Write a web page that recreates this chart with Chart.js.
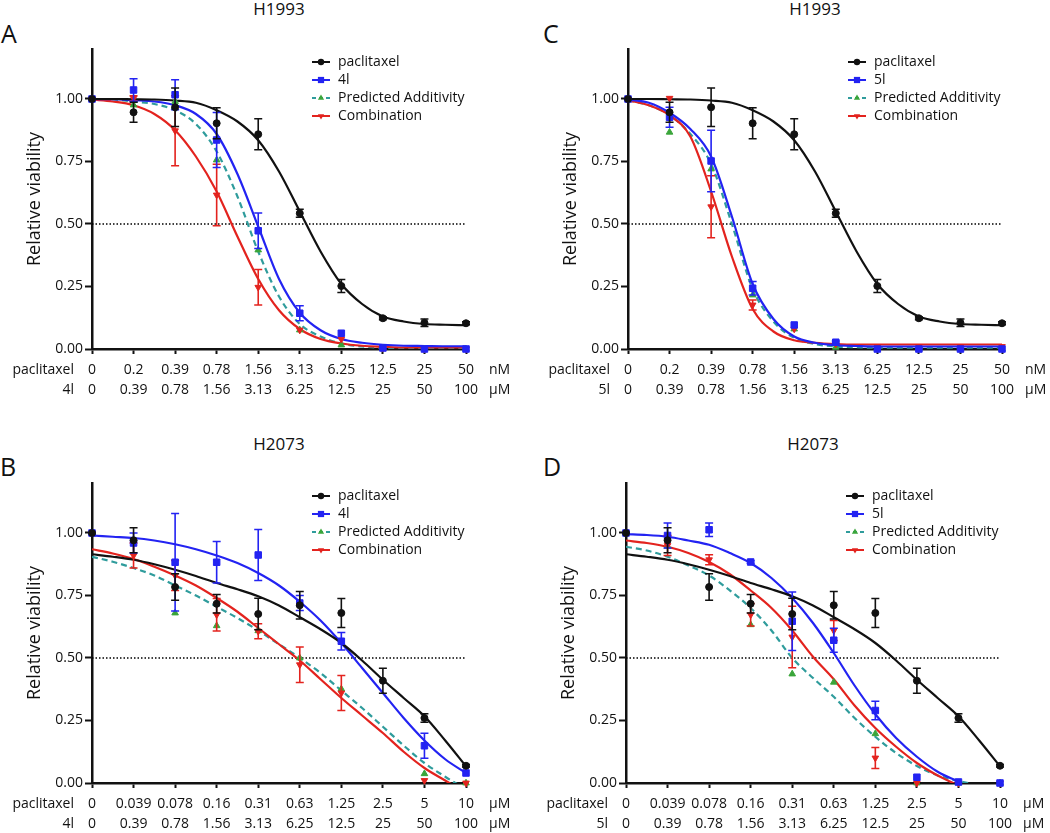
<!DOCTYPE html>
<html>
<head>
<meta charset="utf-8">
<script src="https://cdn.jsdelivr.net/npm/chart.js@4.4.1/dist/chart.umd.min.js"></script>
<style>
  body { margin: 0; width: 1050px; height: 833px; overflow: hidden; position: relative; background: #fff;
         font-family: "Open Sans", sans-serif; color: #111; }
  .panel { position: absolute; }
  .txt { position: absolute; white-space: nowrap; line-height: 1; }
  .title { font-size: 17px; transform: translateX(-50%); }
  .letter { font-size: 25px; }
</style>
</head>
<body>
<div class="txt title" style="left:279px;top:0px">H1993</div>
<div class="txt title" style="left:815px;top:0px">H1993</div>
<div class="txt title" style="left:279px;top:435px">H2073</div>
<div class="txt title" style="left:813px;top:435px">H2073</div>
<div class="txt letter" style="left:1px;top:21px">A</div>
<div class="txt letter" style="left:543px;top:21px">C</div>
<div class="txt letter" style="left:0px;top:454px">B</div>
<div class="txt letter" style="left:543px;top:454px">D</div>

<script>
// dose positions (categories) and positions where the fitted curves were read
var doseIdx = [0, 1, 2, 3, 4, 5, 6, 7, 8, 9];
var fitIdx = [0, 0.5, 1, 1.5, 2, 2.5, 3, 3.5, 4, 4.5, 5, 5.5, 6, 6.5, 7, 7.5, 8, 8.5, 9];

// tick labels
var paclitaxelNM = ['0', '0.2', '0.39', '0.78', '1.56', '3.13', '6.25', '12.5', '25', '50'];
var paclitaxelUM = ['0', '0.039', '0.078', '0.16', '0.31', '0.63', '1.25', '2.5', '5', '10'];
var drugUM = ['0', '0.39', '0.78', '1.56', '3.13', '6.25', '12.5', '25', '50', '100'];
var yTicks = [0, 0.25, 0.5, 0.75, 1.0];
var halfLine = 0.5;

// H1993 - paclitaxel
var h1993Pac = [1.00, 0.947, 0.967, 0.903, 0.859, 0.543, 0.252, 0.123, 0.105, 0.103];
var h1993PacErr = [0, 0.04, 0.077, 0.062, 0.062, 0.016, 0.026, 0.006, 0.015, 0.006];
var h1993PacFit = [1.00, 1.00, 0.999, 0.998, 0.994, 0.985, 0.955, 0.91, 0.835, 0.71, 0.55, 0.39, 0.26, 0.18, 0.13, 0.11, 0.10, 0.097, 0.095];

// H1993 - 4l
var h1993_4l = [1.00, 1.036, 1.017, 0.836, 0.473, 0.143, 0.063, 0.004, 0, 0];
var h1993_4lErr = [0, 0.045, 0.06, 0.11, 0.071, 0.03, 0, 0, 0, 0];
var h1993_4lFit = [1.0, 0.999, 0.995, 0.99, 0.975, 0.94, 0.86, 0.70, 0.49, 0.28, 0.145, 0.075, 0.04, 0.025, 0.017, 0.013, 0.012, 0.011, 0.011];
var h1993_4lPred = [1.0, 0.976, 0.99, 0.756, 0.396, 0.076, 0.016, 0.003, 0, 0];
var h1993_4lPredFit = [1.0, 0.998, 0.99, 0.98, 0.955, 0.90, 0.79, 0.61, 0.39, 0.21, 0.10, 0.05, 0.022, 0.01, 0.005, 0.003, 0.003, 0.003, 0.003];
var h1993_4lComb = [1.0, 1.003, 0.873, 0.616, 0.247, 0.076, 0.039, 0.003, 0, 0];
var h1993_4lCombErr = [0, 0.01, 0.14, 0.123, 0.071, 0, 0, 0, 0, 0];
var h1993_4lCombFit = [0.998, 0.99, 0.975, 0.94, 0.875, 0.77, 0.63, 0.45, 0.28, 0.155, 0.08, 0.04, 0.022, 0.013, 0.009, 0.006, 0.006, 0.006, 0.006];

// H1993 - 5l
var h1993_5l = [1.0, 0.927, 0.752, 0.243, 0.096, 0.027, 0, 0, 0, 0];
var h1993_5lErr = [0, 0.04, 0.123, 0.027, 0, 0.005, 0, 0, 0, 0];
var h1993_5lFit = [0.998, 0.985, 0.945, 0.88, 0.77, 0.53, 0.26, 0.12, 0.05, 0.025, 0.015, 0.012, 0.01, 0.01, 0.01, 0.01, 0.01, 0.01, 0.01];
var h1993_5lPred = [1.0, 0.867, 0.72, 0.216, 0.08, 0.007, 0, 0, 0, 0];
var h1993_5lPredFit = [0.995, 0.975, 0.935, 0.86, 0.74, 0.50, 0.24, 0.11, 0.045, 0.02, 0.01, 0.007, 0.005, 0.005, 0.005, 0.005, 0.005, 0.005, 0.005];
var h1993_5lComb = [1.0, 1.003, 0.569, 0.176, 0.08, 0.02, 0.01, 0.01, 0.01, 0.01];
var h1993_5lCombErr = [0, 0, 0.124, 0.02, 0, 0, 0, 0, 0, 0];
var h1993_5lCombFit = [0.995, 0.975, 0.935, 0.85, 0.63, 0.37, 0.16, 0.07, 0.035, 0.025, 0.02, 0.018, 0.018, 0.018, 0.018, 0.018, 0.018, 0.018, 0.018];

// H2073 - paclitaxel
var h2073Pac = [1.0, 0.971, 0.784, 0.717, 0.676, 0.711, 0.68, 0.409, 0.26, 0.069];
var h2073PacErr = [0, 0.05, 0.053, 0.037, 0.063, 0.055, 0.058, 0.05, 0.017, 0.005];
var h2073PacFit = [0.915, 0.905, 0.893, 0.875, 0.853, 0.828, 0.80, 0.775, 0.747, 0.71, 0.663, 0.615, 0.56, 0.49, 0.413, 0.34, 0.267, 0.17, 0.067];

// H2073 - 4l
var h2073_4l = [1.0, 0.96, 0.883, 0.883, 0.912, 0.72, 0.567, null, 0.149, 0.04];
var h2073_4lErr = [0, 0.04, 0.195, 0.083, 0.102, 0.03, 0.035, 0, 0.05, 0];
var h2073_4lFit = [0.99, 0.985, 0.98, 0.97, 0.955, 0.935, 0.91, 0.88, 0.84, 0.79, 0.725, 0.65, 0.56, 0.46, 0.36, 0.26, 0.17, 0.095, 0.04];
var h2073_4lPred = [1.0, null, 0.68, 0.629, 0.609, 0.50, 0.376, null, 0.037, 0.0];
var h2073_4lPredFit = [0.905, 0.885, 0.86, 0.83, 0.79, 0.75, 0.705, 0.66, 0.61, 0.555, 0.50, 0.44, 0.37, 0.30, 0.225, 0.15, 0.08, 0.025, -0.025];
var h2073_4lComb = [1.0, 0.91, 0.83, 0.673, 0.607, 0.473, 0.36, null, 0.01, 0.0];
var h2073_4lCombErr = [0, 0.05, 0.06, 0.065, 0.03, 0.071, 0.07, 0, 0, 0];
var h2073_4lCombFit = [0.935, 0.918, 0.896, 0.865, 0.83, 0.79, 0.74, 0.685, 0.62, 0.555, 0.49, 0.415, 0.34, 0.27, 0.20, 0.125, 0.06, 0.01, -0.04];

// H2073 - 5l
var h2073_5l = [1.0, 0.99, 1.013, 0.884, 0.647, 0.571, 0.29, 0.023, 0.004, 0.0];
var h2073_5lErr = [0, 0.05, 0.027, 0.005, 0.117, 0.048, 0.037, 0, 0, 0];
var h2073_5lFit = [0.995, 0.992, 0.985, 0.97, 0.953, 0.92, 0.88, 0.82, 0.74, 0.64, 0.52, 0.39, 0.275, 0.18, 0.105, 0.045, 0.005, null, null];
var h2073_5lPred = [1.0, 0.947, null, 0.633, 0.436, 0.403, 0.197, 0.0, 0.0, 0.0];
var h2073_5lPredFit = [0.945, 0.93, 0.905, 0.87, 0.83, 0.77, 0.70, 0.61, 0.50, 0.42, 0.345, 0.26, 0.185, 0.12, 0.068, 0.03, 0.008, -0.01, null];
var h2073_5lComb = [1.0, 0.95, 0.893, 0.673, 0.584, 0.61, 0.10, 0.0, 0.0, 0.0];
var h2073_5lCombErr = [0, 0.04, 0.02, 0.045, 0.123, 0.04, 0.042, 0, 0, 0];
var h2073_5lCombFit = [0.97, 0.96, 0.945, 0.92, 0.884, 0.835, 0.77, 0.70, 0.61, 0.505, 0.415, 0.31, 0.22, 0.145, 0.08, 0.03, -0.01, null, null];

var BLACK = '#111111', BLUE = '#2323f2', TEAL = '#2f9c9c', GREEN = '#3aa53a', RED = '#e3231e';
var TEXT = '#111';
var FONT = '"Open Sans", sans-serif';

function pts(xs, ys) {
  return xs.map(function (x, i) { return { x: x, y: ys[i] }; });
}

function drawMarker(ctx, style, x, y, r, color) {
  ctx.fillStyle = color;
  ctx.beginPath();
  if (style === 'circle') {
    ctx.arc(x, y, r, 0, Math.PI * 2);
  } else if (style === 'rect') {
    var s = r * Math.SQRT1_2;
    ctx.rect(x - s, y - s, 2 * s, 2 * s);
  } else {
    var d = style === 'down' ? -1 : 1;
    ctx.moveTo(x, y - d * r);
    ctx.lineTo(x + r * 0.866, y + d * r * 0.5);
    ctx.lineTo(x - r * 0.866, y + d * r * 0.5);
    ctx.closePath();
  }
  ctx.fill();
}

var errorBars = {
  id: 'errorBars',
  beforeDatasetDraw: function (chart, args) {
    var ds = chart.data.datasets[args.index];
    if (!ds.errors) return;
    var ctx = chart.ctx, xs = chart.scales.x, ys = chart.scales.y;
    ctx.save();
    ctx.strokeStyle = ds.borderColor;
    ctx.lineWidth = 1.6;
    ds.data.forEach(function (p, i) {
      var e = ds.errors[i];
      if (p.y == null || !e) return;
      var x = xs.getPixelForValue(p.x);
      var y1 = ys.getPixelForValue(p.y + e), y2 = ys.getPixelForValue(p.y - e);
      ctx.beginPath();
      ctx.moveTo(x, y1); ctx.lineTo(x, y2);
      ctx.moveTo(x - 4, y1); ctx.lineTo(x + 4, y1);
      ctx.moveTo(x - 4, y2); ctx.lineTo(x + 4, y2);
      ctx.stroke();
    });
    ctx.restore();
  }
};

var sideLegend = {
  id: 'sideLegend',
  afterDraw: function (chart, args, opts) {
    var ctx = chart.ctx, area = chart.chartArea;
    var x0 = area.left + 220;
    opts.items.forEach(function (it, i) {
      var y = area.top + 13 + i * 18;
      ctx.save();
      ctx.strokeStyle = it.line;
      ctx.lineWidth = 2;
      ctx.setLineDash(it.dash || []);
      ctx.beginPath(); ctx.moveTo(x0, y); ctx.lineTo(x0 + 18, y); ctx.stroke();
      ctx.setLineDash([]);
      drawMarker(ctx, it.style, x0 + 9, y, it.r, it.mark);
      ctx.fillStyle = TEXT;
      ctx.font = '14px ' + FONT;
      ctx.textBaseline = 'middle';
      ctx.fillText(it.text, x0 + 26, y);
      ctx.restore();
    });
  }
};

var rowLabels = {
  id: 'rowLabels',
  afterDraw: function (chart, args, opts) {
    var ctx = chart.ctx, area = chart.chartArea;
    ctx.save();
    ctx.fillStyle = TEXT;
    ctx.font = '14px ' + FONT;
    ctx.textBaseline = 'middle';
    opts.names.forEach(function (n, i) {
      var y = area.bottom + 21 + i * 20;
      ctx.textAlign = 'right';
      ctx.fillText(n, area.left - 18, y);
      ctx.textAlign = 'left';
      ctx.fillText(opts.units[i], area.right + 23, y);
    });
    ctx.restore();
  }
};

function makePanel(p) {
  var div = document.createElement('div');
  div.className = 'panel';
  div.style.left = p.left + 'px';
  div.style.top = p.top + 'px';
  var cv = document.createElement('canvas');
  cv.width = p.w; cv.height = p.h;
  div.appendChild(cv);
  document.body.appendChild(div);

  var datasets = [
    { data: pts(doseIdx, p.pac), errors: p.pacErr, borderColor: BLACK, backgroundColor: BLACK, clip: false,
      pointStyle: 'circle', pointRadius: 3.5, borderWidth: 1 },
    { data: pts(doseIdx, p.drug), errors: p.drugErr, borderColor: BLUE, backgroundColor: BLUE, clip: false,
      pointStyle: 'rect', pointRadius: 4.6, borderWidth: 1 },
    { data: pts(doseIdx, p.comb), errors: p.combErr, borderColor: RED, backgroundColor: RED, clip: false,
      pointStyle: 'triangle', rotation: 180, pointRadius: 3.8, borderWidth: 1 },
    { data: pts(doseIdx, p.pred), borderColor: GREEN, backgroundColor: GREEN, clip: false,
      pointStyle: 'triangle', pointRadius: 3.8, borderWidth: 1 },
    { data: pts(fitIdx, p.pacFit), showLine: true, pointRadius: 0, borderColor: BLACK, borderWidth: 2.2, cubicInterpolationMode: 'monotone' },
    { data: pts(fitIdx, p.drugFit), showLine: true, pointRadius: 0, borderColor: BLUE, borderWidth: 2.2, cubicInterpolationMode: 'monotone' },
    { data: pts(fitIdx, p.combFit), showLine: true, pointRadius: 0, borderColor: RED, borderWidth: 2.2, cubicInterpolationMode: 'monotone' },
    { data: pts(fitIdx, p.predFit), showLine: true, pointRadius: 0, borderColor: TEAL, borderWidth: 2.2, borderDash: [6, 4], cubicInterpolationMode: 'monotone' },
    { data: [{ x: doseIdx[0], y: halfLine }, { x: doseIdx[doseIdx.length - 1], y: halfLine }], showLine: true, pointRadius: 0,
      borderColor: '#000', borderWidth: 1.3, borderDash: [1.5, 2] }
  ];

  new Chart(cv.getContext('2d'), {
    type: 'scatter',
    data: { datasets: datasets },
    options: {
      responsive: false,
      animation: false,
      events: [],
      layout: { padding: { top: 49, left: 0, right: p.w - 92 - 374, bottom: 0 } },
      plugins: {
        legend: { display: false },
        tooltip: { enabled: false },
        sideLegend: { items: [
          { text: 'paclitaxel', line: BLACK, mark: BLACK, style: 'circle', r: 3.2 },
          { text: p.drugName, line: BLUE, mark: BLUE, style: 'rect', r: 4.4 },
          { text: 'Predicted Additivity', line: TEAL, dash: [4, 3], mark: GREEN, style: 'up', r: 3.6 },
          { text: 'Combination', line: RED, mark: RED, style: 'down', r: 3.6 }
        ] },
        rowLabels: { names: ['paclitaxel', p.drugName], units: p.units }
      },
      scales: {
        x: {
          type: 'linear', min: 0, max: 9,
          afterFit: function (s) { s.height = p.h - 349; },
          border: { color: BLACK, width: 2.5 },
          grid: { drawOnChartArea: false, tickLength: 5, tickWidth: 2, tickColor: BLACK },
          ticks: {
            stepSize: 1, autoSkip: false, maxRotation: 0, padding: 6, color: TEXT,
            font: { family: FONT, size: 14, lineHeight: 1.43 },
            callback: function (v, i) { return [p.row1[i], drugUM[i]]; }
          }
        },
        y: {
          min: 0, max: 1.2,
          afterFit: function (s) { s.width = 92; },
          afterBuildTicks: function (s) { s.ticks = yTicks.map(function (v) { return { value: v }; }); },
          border: { color: BLACK, width: 2.5 },
          grid: { drawOnChartArea: false, tickLength: 7, tickWidth: 2, tickColor: BLACK },
          ticks: { padding: 2, color: TEXT, font: { family: FONT, size: 14 },
                   callback: function (v) { return v.toFixed(2); } },
          title: { display: true, text: 'Relative viability', color: TEXT,
                   font: { family: FONT, size: 18 }, padding: { top: 24, bottom: 0 } }
        }
      }
    },
    plugins: [errorBars, sideLegend, rowLabels]
  });
}

makePanel({ left: 0, top: 0, w: 525, h: 416, drugName: '4l', row1: paclitaxelNM, units: ['nM', 'µM'],
  pac: h1993Pac, pacErr: h1993PacErr, pacFit: h1993PacFit,
  drug: h1993_4l, drugErr: h1993_4lErr, drugFit: h1993_4lFit,
  pred: h1993_4lPred, predFit: h1993_4lPredFit,
  comb: h1993_4lComb, combErr: h1993_4lCombErr, combFit: h1993_4lCombFit });

makePanel({ left: 536, top: 0, w: 514, h: 416, drugName: '5l', row1: paclitaxelNM, units: ['nM', 'µM'],
  pac: h1993Pac, pacErr: h1993PacErr, pacFit: h1993PacFit,
  drug: h1993_5l, drugErr: h1993_5lErr, drugFit: h1993_5lFit,
  pred: h1993_5lPred, predFit: h1993_5lPredFit,
  comb: h1993_5lComb, combErr: h1993_5lCombErr, combFit: h1993_5lCombFit });

makePanel({ left: 0, top: 434, w: 525, h: 399, drugName: '4l', row1: paclitaxelUM, units: ['µM', 'µM'],
  pac: h2073Pac, pacErr: h2073PacErr, pacFit: h2073PacFit,
  drug: h2073_4l, drugErr: h2073_4lErr, drugFit: h2073_4lFit,
  pred: h2073_4lPred, predFit: h2073_4lPredFit,
  comb: h2073_4lComb, combErr: h2073_4lCombErr, combFit: h2073_4lCombFit });

makePanel({ left: 534, top: 434, w: 516, h: 399, drugName: '5l', row1: paclitaxelUM, units: ['µM', 'µM'],
  pac: h2073Pac, pacErr: h2073PacErr, pacFit: h2073PacFit,
  drug: h2073_5l, drugErr: h2073_5lErr, drugFit: h2073_5lFit,
  pred: h2073_5lPred, predFit: h2073_5lPredFit,
  comb: h2073_5lComb, combErr: h2073_5lCombErr, combFit: h2073_5lCombFit });
</script>
</body>
</html>
